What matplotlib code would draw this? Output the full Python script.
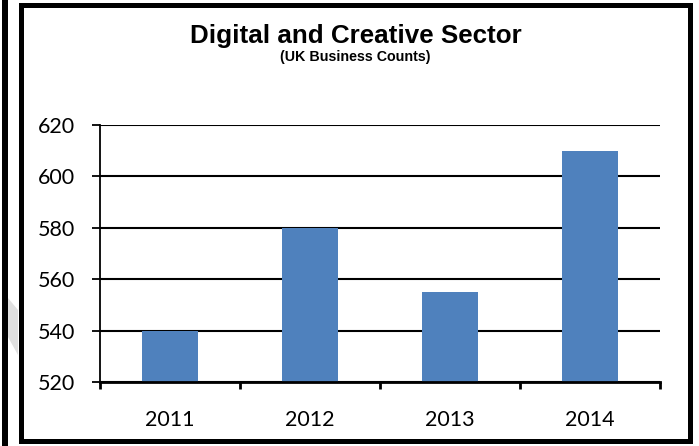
import matplotlib.pyplot as plt
from matplotlib.patches import Rectangle, Polygon
import numpy as np

# UK business counts for the digital and creative sector
years = ['2011', '2012', '2013', '2014']
counts = [540, 580, 555, 610]
y_ticks = [520, 540, 560, 580, 600, 620]

W, H = 699, 446
fig = plt.figure(figsize=(W / 100, H / 100), dpi=100)

def px(x, y):
    # pixel position (from top-left) -> figure fraction
    return x / W, 1 - y / H

ax = fig.add_axes([100 / W, 64 / H, 560 / W, 257 / H])

x = np.arange(len(years))
ax.bar(x, counts, width=0.4, color='#4F81BD', zorder=2)

ax.set_xlim(-0.5, len(years) - 0.5)
ax.set_ylim(y_ticks[0], y_ticks[-1])
ax.set_yticks(y_ticks)
ax.set_yticklabels([str(v) for v in y_ticks], family='Lato', fontsize=15.5)
ax.tick_params(axis='y', length=6, width=1.3, direction='out', pad=12, colors='black')

# boundary ticks between categories, year labels in the middle
ax.set_xticks(np.arange(-0.5, len(years), 1.0))
ax.set_xticklabels([])
ax.tick_params(axis='x', which='major', length=5, width=2, direction='out')
ax.set_xticks(x, minor=True)
ax.set_xticklabels(years, minor=True, family='Lato', fontsize=15.5)
ax.tick_params(axis='x', which='minor', length=0, pad=20)

ax.grid(axis='y', color='black', linewidth=1.5, zorder=0)
ax.set_axisbelow(True)
for s in ['top', 'right']:
    ax.spines[s].set_visible(False)
ax.spines['left'].set_linewidth(1.3)
ax.spines['bottom'].set_linewidth(2)

# titles
tx, ty = px(356, 43)
fig.text(tx, ty, 'Digital and Creative Sector', ha='center', va='baseline',
         family='Liberation Sans', fontweight='bold', fontsize=18.7)
sx, sy = px(355, 61)
fig.text(sx, sy, '(UK Business Counts)', ha='center', va='baseline',
         family='Liberation Sans', fontweight='bold', fontsize=10.3)

# outer frame and the strip at the left edge
x0, y0 = px(21, 440.5)
x1, y1 = px(689.5, 5)
fig.patches.append(Rectangle((x0, y0), x1 - x0, y1 - y0, transform=fig.transFigure,
                             fill=False, edgecolor='black', linewidth=3.6))
fig.patches.append(Rectangle((2 / W, 0), 6 / W, 1, transform=fig.transFigure,
                             facecolor='black', edgecolor='none'))
fig.patches.append(Polygon([px(8, 298), px(18, 310), px(18, 355), px(8, 337)],
                           closed=True, transform=fig.transFigure,
                           facecolor='#e0e0e0', edgecolor='none'))

fig.savefig('out.png', dpi=100)
